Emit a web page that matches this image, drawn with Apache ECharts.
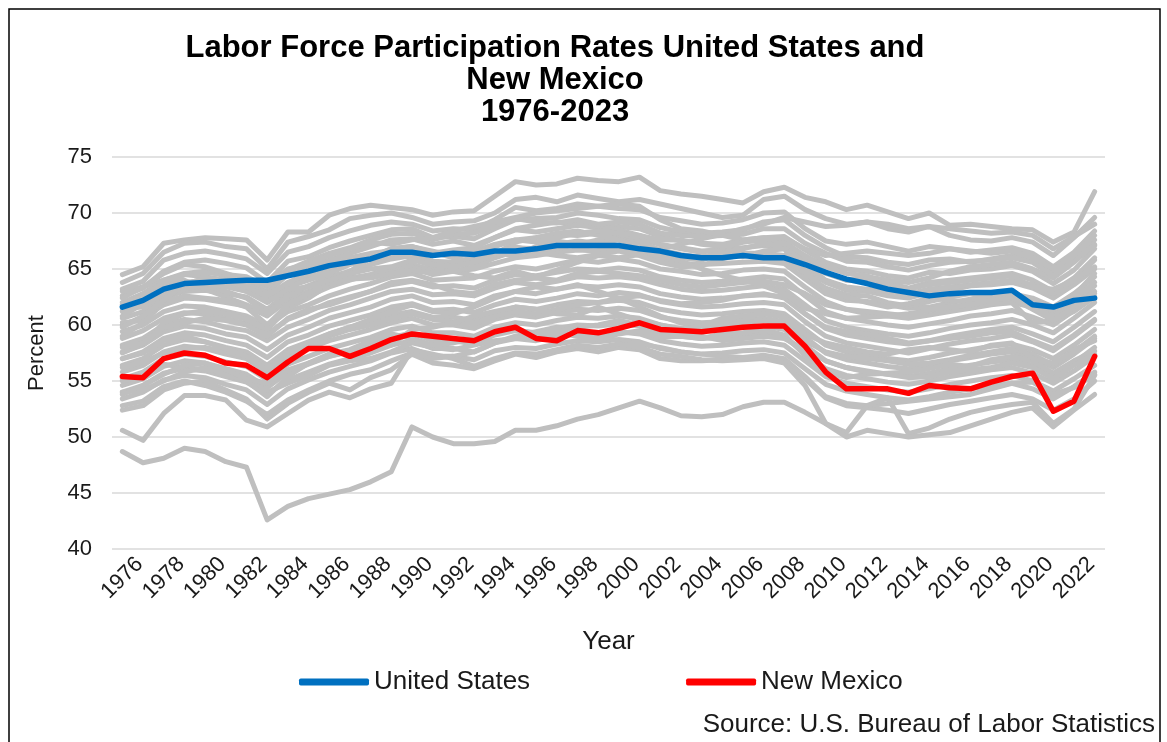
<!DOCTYPE html>
<html>
<head>
<meta charset="utf-8">
<script src="https://cdn.jsdelivr.net/npm/echarts@6/dist/echarts.min.js"></script>
<style>
  html, body { margin: 0; padding: 0; background: #fff; }
  #chart { width: 1167px; height: 742px; }
</style>
</head>
<body>
<div id="chart"></div>
<script>

var years = [];
for (var y = 1976; y <= 2023; y++) { years.push(String(y)); }

var yTicks = [40, 45, 50, 55, 60, 65, 70, 75];

// United States
var usRate = [
  61.6, 62.2, 63.2, 63.7, 63.8, 63.9, 64.0, 64.0, 64.4, 64.8, 65.3, 65.6,
  65.9, 66.5, 66.5, 66.2, 66.4, 66.3, 66.6, 66.6, 66.8, 67.1, 67.1, 67.1,
  67.1, 66.8, 66.6, 66.2, 66.0, 66.0, 66.2, 66.0, 66.0, 65.4, 64.7, 64.1,
  63.7, 63.2, 62.9, 62.6, 62.8, 62.9, 62.9, 63.1, 61.8, 61.6, 62.2, 62.4
];

// New Mexico
var nmRate = [
  55.4, 55.3, 57.0, 57.5, 57.3, 56.6, 56.4, 55.3, 56.7, 57.9, 57.9, 57.2,
  57.9, 58.7, 59.2, 59.0, 58.8, 58.6, 59.4, 59.8, 58.8, 58.6, 59.5, 59.3,
  59.7, 60.2, 59.6, 59.5, 59.4, 59.6, 59.8, 59.9, 59.9, 58.1, 55.8, 54.3,
  54.3, 54.3, 53.9, 54.6, 54.4, 54.3, 54.9, 55.4, 55.7, 52.3, 53.2, 57.2
];

// the other states (grey)
var st01 = [
  64.5, 65.2, 67.3, 67.6, 67.8, 67.7, 67.6, 65.8, 68.3, 68.3, 69.8, 70.4,
  70.7, 70.5, 70.3, 69.8, 70.1, 70.2, 71.5, 72.8, 72.5, 72.6, 73.1, 72.9,
  72.8, 73.2, 72.0, 71.7, 71.5, 71.2, 70.9, 71.9, 72.3, 71.4, 71.0, 70.3,
  70.7, 70.1, 69.5, 70.0, 68.9, 69.0, 68.8, 68.6, 68.5, 67.4, 68.3, 71.9
];
var st02 = [
  63.8, 64.6, 66.5, 67.3, 67.4, 67.0, 66.8, 65.0, 67.4, 67.9, 68.5, 69.5,
  69.8, 70.0, 69.6, 69.0, 69.2, 69.3, 70.0, 71.2, 71.4, 71.0, 71.6, 71.3,
  71.0, 71.2, 70.8, 70.4, 70.0, 69.6, 69.8, 71.2, 71.5, 70.3, 69.5, 69.0,
  69.2, 68.6, 68.3, 68.8, 68.0, 67.6, 67.5, 67.8, 67.4, 66.2, 67.8, 69.6
];
var st03 = [
  63.2, 63.9, 65.8, 66.4, 66.6, 66.3, 65.9, 64.6, 66.5, 67.0, 67.8, 68.4,
  68.9, 69.2, 69.0, 68.4, 68.6, 68.5, 69.4, 70.5, 70.2, 70.4, 70.8, 70.6,
  70.4, 70.3, 69.6, 69.3, 69.0, 69.1, 69.4, 70.0, 70.1, 68.6, 67.5, 67.2,
  67.4, 67.0, 66.6, 67.0, 66.8, 66.5, 66.7, 66.9, 66.4, 65.2, 66.5, 68.4
];
var st04 = [
  62.6, 63.3, 64.8, 65.6, 65.8, 65.5, 65.1, 63.8, 65.7, 66.1, 66.9, 67.5,
  68.0, 68.5, 68.6, 67.8, 67.9, 67.7, 68.6, 69.4, 69.5, 69.6, 70.0, 69.8,
  69.5, 69.4, 68.7, 68.3, 68.2, 68.3, 68.5, 69.2, 69.4, 68.0, 66.9, 66.1,
  66.0, 65.6, 65.4, 65.8, 65.9, 65.6, 65.9, 66.2, 65.8, 64.6, 66.0, 67.6
];
var st05 = [
  62.0, 62.8, 64.0, 64.6, 64.8, 64.4, 64.0, 62.9, 64.5, 65.1, 65.8, 66.4,
  67.0, 67.6, 67.7, 67.2, 67.5, 67.1, 67.8, 68.5, 68.3, 68.6, 68.9, 68.7,
  68.8, 68.6, 67.9, 67.5, 67.3, 67.2, 67.6, 67.8, 67.9, 66.7, 65.6, 65.0,
  64.8, 64.4, 64.2, 64.7, 64.6, 64.9, 65.0, 65.3, 64.8, 63.7, 64.9, 66.8
];
var st06 = [
  61.2, 61.9, 63.2, 63.8, 64.0, 63.6, 63.0, 62.2, 63.6, 64.2, 64.9, 65.6,
  66.1, 66.8, 67.0, 66.3, 66.5, 66.6, 67.2, 67.6, 67.8, 68.1, 68.0, 68.2,
  67.9, 67.7, 67.2, 66.9, 66.6, 66.7, 66.9, 67.1, 67.0, 66.0, 64.7, 64.0,
  63.9, 63.7, 63.3, 63.8, 64.0, 64.2, 64.4, 64.6, 64.0, 63.0, 64.2, 66.0
];
var st07 = [
  60.6, 61.2, 62.5, 63.0, 63.1, 62.8, 62.5, 61.4, 62.9, 63.5, 64.3, 64.8,
  65.4, 65.9, 66.2, 65.7, 65.6, 65.8, 66.3, 66.9, 66.8, 67.2, 67.5, 67.3,
  67.6, 67.4, 66.7, 66.3, 66.0, 66.2, 66.4, 66.4, 66.2, 64.9, 63.8, 63.1,
  63.0, 62.6, 62.4, 62.9, 63.1, 63.5, 63.6, 63.8, 63.3, 62.4, 63.6, 65.0
];
var st08 = [
  60.0, 60.7, 61.8, 62.4, 62.3, 62.0, 61.7, 60.8, 62.2, 62.6, 63.4, 64.0,
  64.5, 65.0, 65.4, 64.9, 64.8, 65.0, 65.5, 66.0, 66.2, 66.5, 66.7, 66.6,
  66.8, 66.5, 65.9, 65.5, 65.4, 65.5, 65.6, 65.7, 65.5, 64.1, 62.8, 62.2,
  62.1, 61.8, 61.5, 61.6, 62.0, 62.3, 62.6, 62.8, 62.4, 61.6, 62.8, 64.3
];
var st09 = [
  59.4, 60.0, 61.2, 61.7, 61.6, 61.2, 60.8, 59.9, 61.2, 61.8, 62.6, 63.2,
  63.7, 64.3, 64.6, 64.0, 64.1, 64.2, 64.8, 65.2, 65.0, 65.4, 65.8, 65.6,
  65.9, 65.6, 65.0, 64.8, 64.5, 64.6, 64.9, 65.0, 64.8, 63.4, 62.1, 61.4,
  61.0, 60.8, 60.6, 60.9, 61.2, 61.5, 61.8, 62.0, 61.6, 60.8, 62.0, 63.5
];
var st10 = [
  58.8, 59.5, 60.6, 61.1, 61.0, 60.6, 60.1, 59.2, 60.5, 61.2, 62.0, 62.5,
  63.0, 63.6, 63.9, 63.4, 63.5, 63.3, 64.0, 64.5, 64.4, 64.7, 65.0, 64.9,
  65.1, 64.9, 64.3, 64.0, 63.8, 63.9, 64.1, 64.3, 64.1, 62.6, 61.2, 60.6,
  60.3, 60.0, 59.8, 60.1, 60.4, 60.8, 61.0, 61.3, 60.7, 60.0, 61.3, 62.8
];
var st11 = [
  58.2, 58.8, 60.0, 60.5, 60.3, 59.8, 59.5, 58.6, 59.8, 60.5, 61.3, 61.8,
  62.4, 63.0, 63.2, 62.7, 62.8, 62.6, 63.3, 63.8, 63.6, 63.9, 64.3, 64.2,
  64.3, 64.1, 63.6, 63.2, 63.0, 63.1, 63.3, 63.5, 63.2, 61.8, 60.4, 59.8,
  59.5, 59.2, 59.0, 59.3, 59.7, 60.0, 60.2, 60.5, 60.0, 59.3, 60.6, 62.0
];
var st12 = [
  57.6, 58.2, 59.4, 59.9, 59.7, 59.2, 58.9, 57.8, 59.1, 59.8, 60.6, 61.1,
  61.6, 62.3, 62.6, 62.0, 62.1, 61.8, 62.6, 63.0, 62.8, 63.2, 63.5, 63.4,
  63.6, 63.4, 62.8, 62.5, 62.3, 62.4, 62.6, 62.7, 62.5, 61.0, 59.7, 59.1,
  58.8, 58.5, 58.3, 58.6, 59.0, 59.3, 59.6, 59.8, 59.2, 58.5, 59.8, 61.2
];
var st13 = [
  57.0, 57.6, 58.8, 59.3, 59.1, 58.6, 58.2, 57.1, 58.5, 59.1, 59.9, 60.4,
  60.9, 61.6, 61.9, 61.3, 61.4, 61.1, 61.8, 62.3, 62.1, 62.4, 62.8, 62.6,
  62.9, 62.7, 62.1, 61.8, 61.6, 61.7, 61.9, 62.0, 61.8, 60.3, 59.0, 58.4,
  58.1, 57.8, 57.5, 57.9, 58.3, 58.6, 58.8, 59.1, 58.5, 57.7, 59.0, 60.4
];
var st14 = [
  56.4, 57.0, 58.2, 58.7, 58.5, 58.0, 57.6, 56.4, 57.8, 58.5, 59.2, 59.8,
  60.3, 60.9, 61.2, 60.7, 60.7, 60.4, 61.1, 61.6, 61.4, 61.8, 62.1, 62.0,
  62.2, 62.0, 61.4, 61.1, 60.9, 61.0, 61.2, 61.3, 61.0, 59.6, 58.2, 57.6,
  57.3, 57.0, 56.8, 57.1, 57.5, 57.8, 58.1, 58.3, 57.8, 57.0, 58.2, 59.6
];
var st15 = [
  55.8, 56.4, 57.6, 58.1, 57.9, 57.4, 57.0, 55.8, 57.2, 57.9, 58.6, 59.1,
  59.6, 60.2, 60.6, 60.0, 60.0, 59.7, 60.5, 60.9, 60.7, 61.1, 61.4, 61.3,
  61.5, 61.3, 60.7, 60.4, 60.2, 60.3, 60.5, 60.6, 60.3, 58.9, 57.5, 56.9,
  56.6, 56.3, 56.1, 56.4, 56.8, 57.1, 57.4, 57.6, 57.1, 56.2, 57.4, 58.8
];
var st16 = [
  55.2, 55.8, 57.0, 57.4, 57.2, 56.7, 56.3, 55.1, 56.5, 57.2, 57.9, 58.4,
  58.9, 59.6, 59.9, 59.3, 59.3, 59.0, 59.8, 60.2, 60.0, 60.4, 60.7, 60.6,
  60.8, 60.6, 60.0, 59.7, 59.5, 59.6, 59.8, 59.9, 59.6, 58.2, 56.8, 56.2,
  55.9, 55.6, 55.4, 55.7, 56.1, 56.4, 56.7, 56.9, 56.4, 55.5, 56.6, 58.0
];
var st17 = [
  54.6, 55.2, 56.3, 56.8, 56.6, 56.1, 55.6, 54.4, 55.8, 56.5, 57.2, 57.7,
  58.2, 58.9, 59.3, 58.6, 58.6, 58.3, 59.1, 59.5, 59.3, 59.7, 60.0, 59.9,
  60.1, 59.9, 59.3, 59.0, 58.8, 58.9, 59.1, 59.2, 58.9, 57.5, 56.1, 55.5,
  55.2, 54.9, 54.7, 55.0, 55.4, 55.7, 56.0, 56.2, 55.7, 54.8, 55.9, 57.2
];
var st18 = [
  54.0, 54.6, 55.7, 56.1, 55.9, 55.4, 54.9, 53.8, 55.1, 55.8, 56.5, 57.0,
  57.5, 58.2, 58.6, 57.9, 57.9, 57.6, 58.4, 58.8, 58.6, 59.0, 59.3, 59.2,
  59.4, 59.2, 58.6, 58.3, 58.1, 58.2, 58.4, 58.5, 58.2, 56.8, 55.4, 54.8,
  54.5, 54.2, 54.0, 54.3, 54.7, 55.0, 55.3, 55.5, 55.0, 54.1, 55.2, 56.4
];
var st19 = [
  53.4, 54.0, 55.1, 55.5, 55.3, 54.7, 54.2, 52.9, 54.3, 55.1, 55.8, 56.3,
  56.8, 57.5, 57.9, 57.2, 57.2, 56.9, 57.7, 58.0, 57.9, 58.3, 58.6, 58.5,
  58.7, 58.5, 57.9, 57.6, 57.4, 57.5, 57.7, 57.8, 57.5, 56.1, 54.7, 54.1,
  53.8, 53.5, 53.3, 53.6, 54.0, 54.3, 54.6, 54.8, 54.3, 53.4, 54.5, 55.8
];
var st20 = [
  52.4, 52.8, 54.2, 54.8, 55.0, 54.2, 53.4, 51.6, 53.0, 54.0, 54.8, 54.2,
  55.3, 56.0, 57.4, 56.6, 56.4, 56.1, 56.8, 57.4, 57.1, 57.6, 57.9, 57.6,
  58.0, 57.8, 57.0, 56.8, 56.8, 56.9, 57.0, 57.2, 56.9, 55.2, 53.5, 52.8,
  52.6, 52.4, 52.1, 52.5, 52.9, 53.2, 53.5, 53.8, 53.4, 52.4, 53.4, 55.0
];
var st21 = [
  57.5, 58.3, 60.2, 61.0, 61.3, 61.0, 60.5, 59.6, 61.5, 62.4, 63.6, 64.5,
  65.4, 66.2, 66.8, 66.4, 66.7, 66.9, 67.8, 68.6, 68.9, 69.2, 69.0, 68.8,
  68.5, 68.0, 67.2, 66.8, 66.5, 66.9, 67.4, 67.6, 67.2, 65.4, 64.0, 63.4,
  63.2, 63.0, 62.8, 63.2, 63.4, 63.6, 63.8, 64.0, 63.6, 62.8, 64.0, 65.8
];
var st22 = [
  56.2, 56.7, 57.5, 57.9, 58.0, 57.6, 57.2, 56.3, 57.5, 58.2, 59.0, 59.6,
  60.0, 60.6, 61.0, 60.5, 60.3, 60.1, 60.8, 61.2, 61.0, 61.4, 61.8, 62.0,
  62.4, 62.6, 62.2, 61.9, 62.0, 62.2, 62.6, 62.8, 62.4, 61.0, 59.8, 59.4,
  59.2, 58.8, 58.4, 58.6, 58.8, 59.0, 59.3, 59.4, 58.6, 57.9, 59.1, 60.5
];
var st23 = [
  63.0, 63.4, 64.0, 64.5, 64.3, 64.0, 63.6, 62.8, 63.4, 64.0, 64.6, 65.4,
  65.9, 66.4, 66.0, 65.2, 64.8, 64.4, 64.2, 64.8, 64.3, 64.9, 65.6, 66.2,
  66.0, 66.3, 66.8, 67.2, 67.7, 68.1, 68.6, 69.0, 69.6, 69.2, 68.8, 68.9,
  69.2, 69.0, 68.6, 68.8, 68.6, 68.4, 68.2, 68.3, 68.0, 66.8, 67.9, 69.0
];
var st24 = [
  61.8, 62.6, 63.8, 64.0, 63.2, 62.5, 61.8, 60.9, 62.4, 63.0, 63.6, 64.2,
  64.5, 65.0, 65.2, 64.5, 64.8, 65.2, 66.0, 66.6, 66.4, 66.8, 67.2, 67.6,
  67.8, 67.0, 66.3, 65.7, 65.0, 64.4, 64.0, 63.5, 62.8, 61.5, 61.0, 60.6,
  60.7, 60.8, 61.0, 61.3, 61.6, 61.8, 61.9, 62.0, 60.2, 60.4, 61.2, 62.5
];
var st25 = [
  52.8, 53.2, 54.5, 55.0, 54.6, 54.0, 53.2, 52.0, 53.3, 54.2, 55.0, 55.6,
  56.0, 56.8, 57.5, 57.0, 57.2, 57.6, 58.4, 59.0, 59.4, 59.8, 59.6, 59.0,
  58.6, 58.3, 58.0, 57.6, 57.4, 57.2, 57.1, 57.3, 57.0, 55.4, 53.6, 53.0,
  52.8, 53.0, 53.2, 53.4, 53.6, 53.8, 54.3, 54.8, 54.9, 53.8, 54.4, 55.6
];
var st26 = [
  50.6, 49.7, 52.1, 53.7, 53.7, 53.3, 51.5, 50.9, 52.1, 53.3, 54.0, 53.5,
  54.3, 54.8, 57.8, 57.4, 57.0, 56.3, 57.0, 57.5, 57.4, 57.8, 58.2, 58.0,
  58.3, 58.0, 57.4, 57.2, 56.9, 56.8, 56.9, 57.0, 56.6, 54.6, 51.2, 50.4,
  52.8, 53.5, 50.3, 50.8, 51.6, 52.2, 52.6, 52.9, 53.1, 51.2, 52.5, 55.5
];
var st27 = [
  48.7, 47.7, 48.1, 49.0, 48.7, 47.8, 47.3, 42.6, 43.8, 44.5, 44.9, 45.3,
  46.0, 46.9, 50.9, 50.0, 49.4, 49.4, 49.6, 50.6, 50.6, 51.0, 51.6, 52.0,
  52.6, 53.2, 52.6, 51.9, 51.8, 52.0, 52.7, 53.1, 53.1, 52.2, 51.2, 50.0,
  50.6, 50.3, 50.0, 50.2, 50.4, 51.0, 51.6, 52.2, 52.6, 50.9, 52.4, 53.8
];
var st28 = [
  57.0, 57.5, 58.6, 59.0, 58.5, 57.9, 57.2, 56.0, 57.5, 58.4, 59.2, 59.8,
  60.5, 61.2, 61.8, 61.2, 61.0, 61.6, 62.4, 63.0, 63.4, 63.2, 63.6, 63.0,
  62.4, 61.6, 60.8, 60.2, 59.8, 59.9, 60.2, 60.4, 60.0, 58.6, 57.6, 57.2,
  57.0, 56.8, 56.5, 56.6, 56.9, 57.3, 57.6, 57.9, 57.4, 56.4, 57.8, 58.6
];
var st29 = [
  59.0, 60.2, 62.0, 62.6, 62.4, 62.2, 61.6, 60.0, 61.8, 62.8, 63.8, 64.8,
  66.0, 66.8, 67.0, 66.5, 66.0, 65.6, 66.3, 67.4, 67.8, 68.2, 68.4, 68.0,
  67.6, 67.0, 66.4, 66.0, 65.8, 66.4, 66.8, 67.3, 67.0, 65.5, 64.6, 64.0,
  64.3, 64.0, 63.8, 64.2, 64.8, 65.2, 65.4, 65.6, 65.0, 64.2, 65.6, 67.2
];
var st30 = [
  61.5, 61.6, 62.8, 63.3, 63.5, 63.0, 62.4, 61.0, 62.6, 63.5, 63.9, 64.1,
  64.2, 64.6, 64.9, 64.6, 65.6, 66.0, 66.4, 66.2, 67.0, 67.5, 67.2, 67.0,
  66.8, 66.9, 66.0, 66.2, 66.1, 66.4, 66.1, 66.6, 66.8, 64.4, 63.3, 62.7,
  62.6, 62.0, 61.7, 62.1, 62.5, 62.8, 62.3, 62.6, 61.8, 61.2, 62.3, 63.8
];
var st31 = [
  55.0, 55.4, 56.5, 56.2, 56.0, 55.8, 55.4, 54.0, 54.8, 55.5, 56.4, 56.8,
  57.0, 57.6, 58.4, 58.0, 57.8, 58.2, 58.6, 58.8, 58.9, 59.3, 59.0, 58.7,
  59.2, 59.5, 58.9, 59.0, 58.8, 59.2, 59.3, 59.6, 59.1, 57.3, 55.8, 55.3,
  55.6, 55.7, 55.8, 56.1, 56.5, 56.3, 56.9, 57.2, 56.8, 55.7, 56.8, 57.7
];
var st32 = [
  60.8, 61.9, 63.5, 64.5, 64.7, 64.5, 64.3, 63.4, 64.9, 65.7, 66.4, 66.9,
  67.6, 68.1, 68.2, 67.6, 68.1, 68.2, 68.9, 69.5, 69.2, 69.1, 69.4, 69.0,
  69.2, 69.0, 68.2, 68.0, 67.9, 68.0, 68.1, 68.6, 68.6, 67.3, 66.4, 65.7,
  65.6, 65.2, 64.9, 65.3, 65.6, 65.7, 65.8, 66.0, 65.6, 64.4, 65.9, 67.1
];
var st33 = [
  60.2, 60.4, 62.2, 63.2, 63.6, 63.4, 63.0, 62.0, 63.2, 63.4, 64.0, 64.6,
  65.0, 65.2, 65.8, 65.4, 65.2, 65.6, 66.4, 67.0, 66.5, 66.2, 66.0, 66.3,
  66.6, 66.2, 65.6, 65.2, 65.3, 65.9, 66.3, 66.1, 65.8, 64.7, 63.2, 62.5,
  62.0, 61.6, 61.9, 62.4, 62.2, 62.0, 62.6, 63.0, 62.0, 61.3, 62.6, 64.6
];
var st34 = [
  54.0, 54.2, 55.0, 55.8, 56.2, 55.6, 55.0, 53.6, 55.4, 56.6, 57.2, 57.6,
  58.0, 58.2, 59.6, 59.8, 60.2, 60.8, 61.2, 61.6, 61.4, 61.0, 60.9, 61.6,
  61.0, 60.4, 60.0, 59.6, 59.9, 60.6, 60.8, 61.0, 60.7, 59.2, 58.4, 58.0,
  57.6, 57.4, 57.8, 58.0, 57.8, 57.6, 58.2, 58.4, 57.0, 56.6, 57.6, 59.0
];
var st35 = [
  62.4, 63.4, 64.6, 65.4, 65.2, 64.6, 64.0, 63.6, 65.0, 65.4, 66.2, 66.8,
  67.4, 67.2, 67.6, 67.8, 68.4, 68.8, 69.2, 69.6, 70.0, 70.2, 70.4, 70.6,
  70.8, 70.6, 69.4, 68.6, 68.4, 68.0, 67.6, 67.8, 67.4, 66.2, 65.2, 64.6,
  64.4, 63.6, 63.2, 63.6, 63.8, 64.0, 64.2, 64.4, 63.4, 63.2, 64.0, 65.2
];
var st36 = [
  58.0, 58.4, 59.8, 60.2, 60.6, 60.4, 60.0, 59.0, 60.6, 61.4, 61.8, 62.4,
  63.0, 63.8, 64.0, 63.6, 63.0, 62.8, 63.6, 64.0, 64.2, 64.0, 64.6, 64.8,
  64.6, 64.4, 64.0, 63.6, 63.4, 63.6, 63.8, 63.9, 63.6, 62.8, 61.8, 61.4,
  61.2, 61.0, 60.8, 61.4, 61.6, 61.8, 62.2, 62.4, 61.4, 60.4, 61.6, 63.0
];
var st37 = [
  53.8, 54.6, 55.6, 56.4, 56.6, 56.0, 55.2, 54.8, 56.0, 56.6, 57.4, 57.8,
  58.6, 59.2, 58.8, 58.2, 58.4, 58.8, 59.4, 59.6, 59.2, 59.4, 59.8, 60.0,
  60.4, 60.0, 59.8, 59.4, 59.0, 58.6, 58.8, 59.0, 58.8, 57.8, 56.8, 56.2,
  55.8, 55.6, 55.3, 55.4, 55.8, 56.0, 56.2, 56.6, 56.2, 55.2, 56.4, 57.4
];
var st38 = [
  59.8, 60.8, 62.2, 63.6, 64.2, 64.0, 63.4, 62.6, 63.8, 64.6, 65.4, 66.0,
  66.4, 66.6, 67.0, 66.6, 66.2, 66.4, 67.0, 67.6, 67.4, 67.8, 68.2, 68.4,
  68.2, 68.0, 67.6, 67.6, 67.2, 67.0, 67.4, 67.6, 67.8, 66.8, 66.2, 66.4,
  66.6, 66.4, 66.2, 66.4, 66.8, 66.6, 66.4, 66.6, 66.0, 65.0, 66.2, 68.0
];

var otherStates = [st01, st02, st03, st04, st05, st06, st07, st08, st09, st10,
  st11, st12, st13, st14, st15, st16, st17, st18, st19, st20, st21, st22,
  st23, st24, st25, st26, st27, st28, st29, st30, st31, st32, st33, st34,
  st35, st36, st37, st38];

var FONT = '"Liberation Sans", Arial, sans-serif';

var chart = echarts.init(document.getElementById('chart'), null, { renderer: 'canvas' });

var series = [];
otherStates.forEach(function (d, i) {
  series.push({
    name: 'state' + (i + 1),
    type: 'line',
    data: d,
    showSymbol: false,
    symbol: 'none',
    silent: true,
    lineStyle: { color: '#BFBFBF', width: 5, cap: 'round', join: 'round' },
    itemStyle: { color: '#BFBFBF' },
    z: 2
  });
});
series.push({
  name: 'United States',
  type: 'line',
  data: usRate,
  symbol: 'none',
  lineStyle: { color: '#0070C0', width: 5.5, cap: 'round', join: 'round' },
  itemStyle: { color: '#0070C0' },
  z: 3
});
series.push({
  name: 'New Mexico',
  type: 'line',
  data: nmRate,
  symbol: 'none',
  lineStyle: { color: '#FF0000', width: 5.5, cap: 'round', join: 'round' },
  itemStyle: { color: '#FF0000' },
  z: 4
});

var option = {
  animation: false,
  backgroundColor: '#fff',
  title: {
    text: 'Labor Force Participation Rates United States and\nNew Mexico\n1976-2023',
    left: 550,
    top: 27,
    textAlign: 'center',
    textStyle: {
      fontFamily: FONT, fontSize: 31, fontWeight: 'bold', color: '#000', lineHeight: 32
    }
  },
  legend: {
    data: ['United States', 'New Mexico'],
    left: 294,
    top: 664,
    icon: 'roundRect',
    itemWidth: 70,
    itemHeight: 7,
    itemGap: 156,
    textStyle: { fontFamily: FONT, fontSize: 26, color: '#1a1a1a' }
  },
  grid: { left: 112, right: 62, top: 157, bottom: 193, containLabel: false },
  xAxis: {
    type: 'category',
    data: years,
    boundaryGap: true,
    name: 'Year',
    nameLocation: 'middle',
    nameGap: 80,
    nameTextStyle: { fontFamily: FONT, fontSize: 26, color: '#1a1a1a' },
    axisLine: { show: false },
    axisTick: { show: false },
    axisLabel: {
      interval: 1, rotate: 45, margin: 29,
      align: 'center', verticalAlign: 'middle',
      fontFamily: FONT, fontSize: 22, color: '#1a1a1a'
    }
  },
  yAxis: {
    type: 'value',
    min: yTicks[0],
    max: yTicks[yTicks.length - 1],
    interval: 5,
    name: 'Percent',
    nameLocation: 'middle',
    nameGap: 64,
    nameRotate: 90,
    nameTextStyle: { fontFamily: FONT, fontSize: 22, color: '#1a1a1a' },
    axisLine: { show: false },
    axisTick: { show: false },
    axisLabel: { margin: 20, fontFamily: FONT, fontSize: 22, color: '#1a1a1a' },
    splitLine: { lineStyle: { color: '#D9D9D9', width: 1.5 } }
  },
  graphic: [
    {
      type: 'rect',
      shape: { x: 9, y: 9, width: 1151, height: 760 },
      style: { fill: 'none', stroke: '#000', lineWidth: 1.5 },
      silent: true
    },
    {
      type: 'text',
      right: 12,
      top: 712,
      style: {
        text: 'Source: U.S. Bureau of Labor Statistics',
        font: '26px ' + FONT,
        fill: '#1a1a1a'
      }
    }
  ],
  series: series
};

chart.setOption(option);

</script>
</body>
</html>
